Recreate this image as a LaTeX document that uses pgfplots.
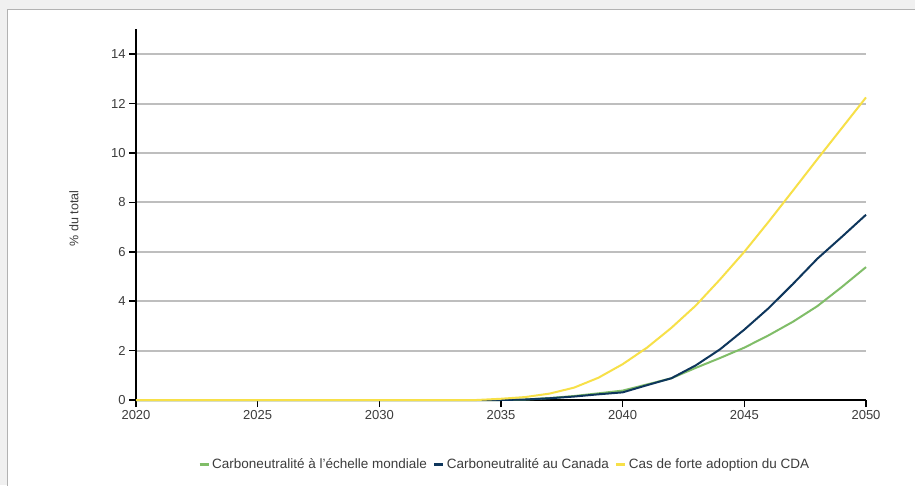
\documentclass[border=0pt]{standalone}
\usepackage{fontspec}
\setmainfont{Liberation Sans}
\usepackage{pgfplots}
\pgfplotsset{compat=1.18}

\definecolor{cgreen}{RGB}{128,189,104}
\definecolor{cblue}{RGB}{14,54,92}
\definecolor{cyellow}{RGB}{247,224,72}
\definecolor{cgrid}{RGB}{190,190,190}
\definecolor{ctext}{RGB}{60,60,60}

\begin{document}
\begin{tikzpicture}[x=1pt,y=1pt]
\useasboundingbox (0,0) rectangle (915,485);
\fill[black!6] (0,0) rectangle (915,485);
\filldraw[fill=white, draw=black!30, line width=1pt] (7,-10) rectangle (925,475);
\begin{axis}[
  scale only axis,
  width=730pt, height=370.5pt,
  at={(136pt,85pt)}, anchor=south west,
  xmin=2020, xmax=2050,
  ymin=0, ymax=15,
  xtick={2020,2025,...,2050},
  ytick={0,2,...,14},
  axis x line*=bottom,
  axis y line*=left,
  axis line style={black, line width=2pt, -},
  tick style={black, line width=1.5pt},
  tick align=outside,
  major tick length=7pt,
  ymajorgrids,
  grid style={cgrid, line width=2pt},
  xticklabel style={/pgf/number format/1000 sep={}},
  ticklabel style={font=\fontsize{13}{15}\selectfont, text=ctext},
  /pgf/number format/assume math mode=true,
  ylabel={\% du total},
  ylabel style={font=\fontsize{12.5}{14}\selectfont, text=ctext, at={(axis description cs:-0.074,0.49)}},
  legend columns=3,
  legend style={draw=none, fill=none, at={(axis description cs:0.505,-0.173)}, anchor=center,
    font=\fontsize{13.5}{15}\selectfont, text=ctext,
    /tikz/every even column/.append style={column sep=4pt}},
  legend image code/.code={\draw[#1, line width=3pt] (0pt,0pt) -- (9pt,0pt);},
  every axis plot/.append style={line width=2pt},
  clip=false,
]
\addplot[cgreen] coordinates {
(2020,0) (2030,0) (2035,0) (2036,0.02) (2037,0.08) (2038,0.16) (2039,0.27) (2040,0.38)
(2041,0.63) (2042,0.88) (2043,1.3) (2044,1.7) (2045,2.12) (2046,2.62) (2047,3.17)
(2048,3.8) (2049,4.57) (2050,5.38)};
\addlegendentry{Carboneutralité à l'échelle mondiale}
\addplot[cblue] coordinates {
(2020,0) (2030,0) (2035,0) (2036,0.02) (2037,0.07) (2038,0.14) (2039,0.23) (2040,0.31)
(2041,0.6) (2042,0.88) (2043,1.4) (2044,2.05) (2045,2.85) (2046,3.72) (2047,4.7)
(2048,5.72) (2049,6.6) (2050,7.5)};
\addlegendentry{Carboneutralité au Canada}
\addplot[cyellow] coordinates {
(2020,0) (2030,0) (2034,0) (2035,0.05) (2036,0.12) (2037,0.26) (2038,0.5) (2039,0.9)
(2040,1.45) (2041,2.12) (2042,2.92) (2043,3.82) (2044,4.88) (2045,6.0) (2046,7.22)
(2047,8.48) (2048,9.75) (2049,11.0) (2050,12.25)};
\addlegendentry{Cas de forte adoption du CDA}
\end{axis}
\end{tikzpicture}
\end{document}
